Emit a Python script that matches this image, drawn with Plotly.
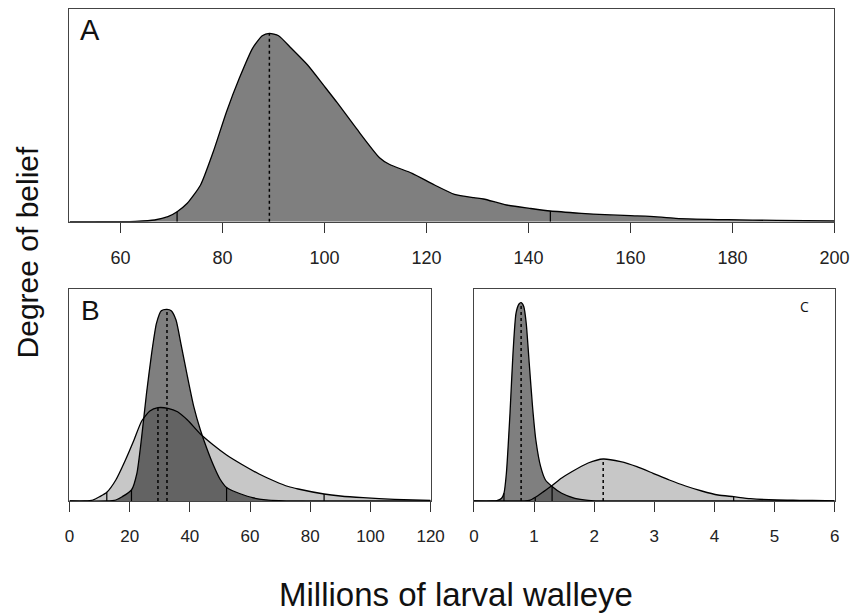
import plotly.graph_objects as go

# ---------------- data ----------------
# Panel A: posterior of total larval walleye (millions)
a_x = [50, 55, 60, 62.9, 66.7, 69.3, 71.1, 73.1, 75.7, 78.2, 80.8, 83.3, 85.9, 87.8, 89.2,
       91.0, 93.5, 96.7, 99.9, 102.5, 106.3, 110.8, 112.7, 117.2, 121.6, 125.5, 129.3, 131.2,
       135.7, 140.2, 144.3, 150.4, 155, 160.0, 163.8, 168.9, 179.1, 188.7, 200]
a_y = [0, 0, 0.1, 0.4, 1.7, 5, 10, 18.4, 36.7, 70, 110, 143.4, 173.4, 186, 188.4,
       186, 173.4, 156.7, 136, 119, 93, 64, 57.4, 48.4, 36.7, 27.4, 24, 22.7,
       16.7, 13.4, 10.7, 8.4, 7, 6, 5.4, 3.4, 2, 1.3, 0.7]
a_ci = [71.1, 144.3]
a_ci_h = [10, 10.7]
a_mode = 89.2
a_mode_h = 188.4

# Panel B: dark (narrow) and light (wide) curves
bd_x = [0, 12, 15.4, 17.5, 20.6, 22.4, 24.0, 25.6, 27.3, 28.9, 30.5, 32.4, 33.8, 35.4, 37.0,
        39.2, 41.3, 43.5, 45.7, 47.8, 50.0, 52.2, 54.0, 56.5, 60.8, 65.2, 69.5, 80, 120]
bd_y = [0, 0, 1, 4.3, 11, 27.7, 64.3, 107.7, 147.7, 177.7, 190.3, 191.7, 190.3, 181, 157.7,
        124.3, 94.3, 71, 52, 36, 22, 13.5, 10.5, 7.5, 3.3, 1.2, 0.4, 0, 0]
bd_ci = [20.6, 52.2]
bd_ci_h = [11, 13.5]
bd_mode = 32.4
bd_mode_h = 191.7

bl_x = [0, 5, 7.8, 10.0, 12.4, 15.4, 18.6, 21.3, 24.0, 26.7, 29.4, 32.7, 35.9, 39.2, 43.5,
        47.8, 52.2, 57.6, 63.0, 68.4, 72.7, 76, 84.6, 90, 97.6, 108, 120]
bl_y = [0, 0, 1, 4.3, 8.7, 21, 41, 60, 80, 90, 93.3, 92.7, 89.3, 81, 67,
        56, 46, 36, 27, 19.5, 14.5, 12, 7, 5, 3.3, 1.7, 0.7]
bl_ci = [12.4, 84.6]
bl_ci_h = [8.7, 7]
bl_mode = 29.4
bl_mode_h = 93.3

# Panel C: dark (narrow) and light (wide) curves
cd_x = [0, 0.3, 0.38, 0.46, 0.50, 0.54, 0.60, 0.65, 0.70, 0.75, 0.785, 0.83, 0.87, 0.92,
        0.975, 1.03, 1.11, 1.19, 1.30, 1.46, 1.68, 1.90, 2.2, 6]
cd_y = [0, 0, 0.3, 2.7, 7.7, 27.7, 87.7, 147.7, 187.7, 197, 198.3, 194.3, 177.7, 137.7,
        94.3, 61, 34.3, 21, 14.5, 7.7, 2.7, 0.7, 0, 0]
cd_ci = [0.50, 1.30]
cd_ci_h = [7.7, 14.5]
cd_mode = 0.785
cd_mode_h = 198.3

cl_x = [0, 0.6, 0.81, 0.92, 1.03, 1.15, 1.29, 1.46, 1.62, 1.90, 2.15, 2.44, 2.71, 2.98, 3.25,
        3.52, 3.79, 4.06, 4.32, 4.60, 5.04, 5.42, 5.85, 6]
cl_y = [0, 0, 0.2, 0.5, 4, 9, 15, 23, 29, 38, 42, 39.3, 34.3, 27.7, 21,
        15, 10, 6, 4.3, 2.3, 1, 0.7, 0.3, 0.2]
cl_ci = [1.02, 4.32]
cl_ci_h = [3.5, 4.3]
cl_mode = 2.15
cl_mode_h = 42

a_ticks = [60, 80, 100, 120, 140, 160, 180, 200]
b_ticks = [0, 20, 40, 60, 80, 100, 120]
c_ticks = [0, 1, 2, 3, 4, 5, 6]

# ---------------- layout helpers ----------------
W, H = 866, 615
def px(x):
    return x / W
def py(y):
    return 1 - y / H

DARK = "rgba(0,0,0,0.50)"
LIGHT = "rgba(0,0,0,0.22)"

fig = go.Figure()

def add_curve(x, y, xa, ya, fillcolor):
    fig.add_trace(go.Scatter(x=x, y=y, xaxis=xa, yaxis=ya, mode="lines",
                             line=dict(color="black", width=1.3, shape="spline", smoothing=0.6),
                             fill="tozeroy", fillcolor=fillcolor,
                             hoverinfo="skip", showlegend=False))

def add_marks(ci, ci_h, mode, mode_h, xa, ya):
    for v, h in zip(ci, ci_h):
        fig.add_trace(go.Scatter(x=[v, v], y=[0, h], xaxis=xa, yaxis=ya, mode="lines",
                                 line=dict(color="black", width=1.2),
                                 hoverinfo="skip", showlegend=False))
    fig.add_trace(go.Scatter(x=[mode, mode], y=[0, mode_h], xaxis=xa, yaxis=ya, mode="lines",
                             line=dict(color="black", width=1.5, dash="dot"),
                             hoverinfo="skip", showlegend=False))

add_curve(a_x, a_y, "x", "y", DARK)
add_marks(a_ci, a_ci_h, a_mode, a_mode_h, "x", "y")

add_curve(bl_x, bl_y, "x2", "y2", LIGHT)
add_curve(bd_x, bd_y, "x2", "y2", DARK)
add_marks(bl_ci, bl_ci_h, bl_mode, bl_mode_h, "x2", "y2")
add_marks(bd_ci, bd_ci_h, bd_mode, bd_mode_h, "x2", "y2")

add_curve(cl_x, cl_y, "x3", "y3", LIGHT)
add_curve(cd_x, cd_y, "x3", "y3", DARK)
add_marks(cl_ci, cl_ci_h, cl_mode, cl_mode_h, "x3", "y3")
add_marks(cd_ci, cd_ci_h, cd_mode, cd_mode_h, "x3", "y3")

box = dict(showline=True, linecolor="#444444", linewidth=1, mirror=True,
           showgrid=False, zeroline=False)

def xax(dom, rng, ticks, anchor, font):
    return dict(domain=dom, range=rng, tickvals=ticks, ticktext=[str(t) for t in ticks],
                ticks="outside", ticklen=10, tickwidth=1, tickcolor="#333333",
                ticklabelstandoff=10,
                tickfont=font, anchor=anchor, **box)

def yax(dom, rng, anchor):
    return dict(domain=dom, range=rng, showticklabels=False, ticks="",
                anchor=anchor, **box)

fontA = dict(family="Liberation Sans Narrow, Arial Narrow, Liberation Sans", size=18, color="#222222")
fontB = dict(family="Liberation Sans, Arial", size=17, color="#222222")

fig.update_layout(
    width=W, height=H,
    margin=dict(l=0, r=0, t=0, b=0),
    paper_bgcolor="white", plot_bgcolor="white",
    xaxis=xax([px(66), px(849)], [50, 200], a_ticks, "y", fontA),
    yaxis=yax([py(221.7), py(9)], [0, 212.7], "x"),
    xaxis2=xax([px(66), px(435.7)], [0, 120], b_ticks, "y2", fontB),
    yaxis2=yax([py(501), py(289.3)], [0, 211.7], "x2"),
    xaxis3=xax([px(480), px(849.3)], [0, 6], c_ticks, "y3", fontB),
    yaxis3=yax([py(501), py(289.3)], [0, 211.7], "x3"),
    font=dict(family="Liberation Sans, Arial", color="#111111"),
)

ann = [
    dict(text="A", x=px(87), y=py(30.5), size=29, family="Liberation Sans, Arial"),
    dict(text="B", x=px(87.5), y=py(310.7), size=28, family="Liberation Sans, Arial"),
    dict(text="C", x=px(818), y=py(306), size=14, family="Open Sans, Liberation Sans"),
    dict(text="Millions of larval walleye", x=px(461.5), y=py(594), size=33,
         family="Liberation Sans, Arial"),
]
for a in ann:
    fig.add_annotation(text=a["text"], x=a["x"], y=a["y"], xref="paper", yref="paper",
                       showarrow=False, xanchor="center", yanchor="middle",
                       font=dict(size=a["size"], family=a["family"], color="#111111"))
fig.add_annotation(text="Degree of belief", x=px(24), y=py(252), xref="paper", yref="paper",
                   showarrow=False, xanchor="center", yanchor="middle", textangle=-90,
                   font=dict(size=30, family="Liberation Sans, Arial", color="#111111"))

fig.write_html("out.html")
